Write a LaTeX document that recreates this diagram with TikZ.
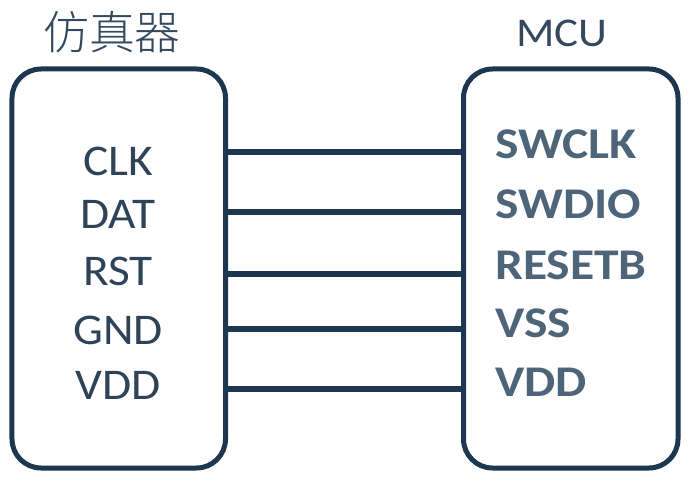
\documentclass[tikz,border=0pt]{standalone}
\usepackage{fontspec}
\setmainfont{Carlito}
\newfontfamily\cjk{Noto Sans CJK SC}[UprightFont=* Light]
\definecolor{frame}{HTML}{1E3750}
\definecolor{pintext}{HTML}{2E4358}
\definecolor{mcutext}{HTML}{4D6479}
\definecolor{titletext}{HTML}{34495D}
\begin{document}
\begin{tikzpicture}[x=1bp,y=-1bp,
  box/.style={draw=frame, line width=5bp, rounded corners=29bp, inner sep=0pt},
  wire/.style={draw=frame, line width=6bp},
  pin/.style={text=pintext, font=\fontsize{44}{44}\selectfont, inner sep=0pt, xscale=1.08},
  mcupin/.style={text=mcutext, font=\fontsize{44}{44}\selectfont\bfseries, inner sep=0pt, anchor=west, xscale=1.13},
  title/.style={text=titletext, inner sep=0pt}]
\useasboundingbox (0,0) rectangle (700,492);

% the two devices
\node[box, minimum width=213.5bp, minimum height=399bp] (emu) at (118.75,268.5) {};
\node[box, minimum width=214.5bp, minimum height=399bp] (mcu) at (570.75,268.5) {};

% headings
\node[title, font=\cjk\fontsize{46}{46}\selectfont] (emutitle) at (112,32) {仿真器};
\node[title, font=\fontsize{41}{41}\selectfont, xscale=1.1] (mcutitle) at (562,33) {MCU};

% emulator pins
\node[pin] (clk) at (118,161) {CLK};
\node[pin] (dat) at (118,214.5) {DAT};
\node[pin] (rst) at (118,271) {RST};
\node[pin] (gnd) at (118,330) {GND};
\node[pin] (vdde) at (118,385) {VDD};

% MCU pins
\node[mcupin] (swclk) at (495,144) {SWCLK};
\node[mcupin] (swdio) at (495,204.5) {SWDIO};
\node[mcupin] (resetb) at (495,265) {RESETB};
\node[mcupin] (vss) at (495,323) {VSS};
\node[mcupin] (vddm) at (495,382) {VDD};

% wire heights
\coordinate (w1) at (0,152);
\coordinate (w2) at (0,212);
\coordinate (w3) at (0,274);
\coordinate (w4) at (0,329);
\coordinate (w5) at (0,389);

% wires between the devices
\foreach \w in {w1,w2,w3,w4,w5}
  \draw[wire] (emu.east |- \w) -- (mcu.west |- \w);
\end{tikzpicture}
\end{document}
